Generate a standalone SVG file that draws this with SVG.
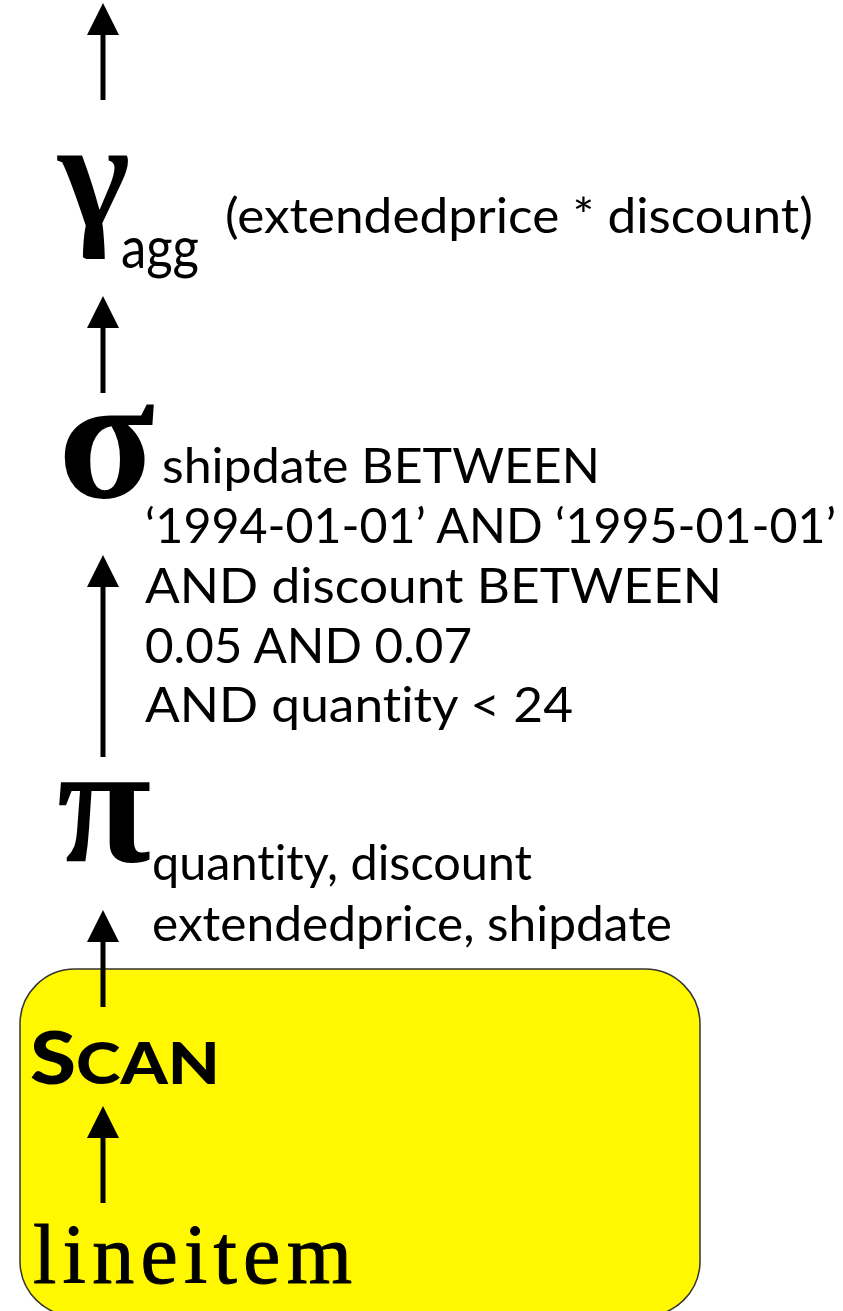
<svg xmlns="http://www.w3.org/2000/svg" width="843" height="1311" viewBox="0 0 843 1311">
  <style>
    .op { font-family: "Liberation Serif", "DejaVu Serif", serif; font-weight: bold; fill: #000; }
    .lbl { font-family: Lato, "Open Sans", "Liberation Sans", sans-serif; font-size: 48px; fill: #000; font-variant-ligatures: none; }
    .sub { font-family: Lato, "Open Sans", "Liberation Sans", sans-serif; fill: #000; font-variant-ligatures: none; }
    .edge { stroke: #000; stroke-width: 5; fill: none; }
  </style>
  <defs>
    <!-- arrowhead pointing along the line; tip sits 20px beyond the line end -->
    <marker id="head" markerUnits="userSpaceOnUse" markerWidth="34" markerHeight="34" viewBox="0 0 34 34" refX="12" refY="17" orient="auto">
      <path d="M32 17 L0 1 L0 33 Z" fill="#000"/>
    </marker>
  </defs>

  <!-- scan pipeline background -->
  <g id="scan-box">
    <rect x="20" y="969" width="680" height="347" rx="55" ry="55" fill="#FFF800" stroke="#333" stroke-width="1.5"/>
  </g>

  <!-- dataflow arrows, bottom to top -->
  <g id="connectors">
    <line class="edge" x1="103" y1="1203" x2="103" y2="1126" marker-end="url(#head)"/>
    <line class="edge" x1="103" y1="1007" x2="103" y2="930" marker-end="url(#head)"/>
    <line class="edge" x1="103" y1="757" x2="103" y2="575" marker-end="url(#head)"/>
    <line class="edge" x1="103" y1="393" x2="103" y2="316" marker-end="url(#head)"/>
    <line class="edge" x1="103" y1="100" x2="103" y2="23" marker-end="url(#head)"/>
  </g>

  <!-- aggregation -->
  <g id="node-gamma">
    <text class="op" x="58" y="226" font-size="154">γ</text>
    <text class="sub" x="121" y="268" font-size="59" textLength="78" lengthAdjust="spacingAndGlyphs">agg</text>
    <text class="lbl" x="225" y="233" textLength="588" lengthAdjust="spacingAndGlyphs">(extendedprice * discount)</text>
  </g>

  <!-- selection -->
  <g id="node-sigma">
    <text class="op" x="58" y="497" font-size="178">σ</text>
    <text class="lbl" x="162" y="483" textLength="438" lengthAdjust="spacingAndGlyphs">shipdate BETWEEN</text>
    <text class="lbl" x="145" y="543" textLength="691" lengthAdjust="spacingAndGlyphs">‘1994-01-01’ AND ‘1995-01-01’</text>
    <text class="lbl" x="145" y="603" textLength="577" lengthAdjust="spacingAndGlyphs">AND discount BETWEEN</text>
    <text class="lbl" x="145" y="663" textLength="327" lengthAdjust="spacingAndGlyphs">0.05 AND 0.07</text>
    <text class="lbl" x="145" y="722" textLength="428" lengthAdjust="spacingAndGlyphs">AND quantity &lt; 24</text>
  </g>

  <!-- projection -->
  <g id="node-pi">
    <text class="op" x="57" y="861" font-size="172">π</text>
    <text class="lbl" x="152" y="880" textLength="380" lengthAdjust="spacingAndGlyphs">quantity, discount</text>
    <text class="lbl" x="152" y="941" textLength="520" lengthAdjust="spacingAndGlyphs">extendedprice, shipdate</text>
  </g>

  <!-- scan operator -->
  <g id="node-scan">
    <text x="30" y="1084" font-family="Lato, 'Open Sans', 'Liberation Sans', sans-serif" font-weight="900" fill="#000" textLength="190" lengthAdjust="spacingAndGlyphs"><tspan font-size="72">S</tspan><tspan font-size="58">CAN</tspan></text>
  </g>

  <!-- base table -->
  <g id="node-lineitem">
    <text x="33" y="1283" font-family="'Liberation Serif', 'DejaVu Serif', serif" font-size="84" fill="#000" stroke="#000" stroke-width="1" textLength="319" lengthAdjust="spacing">lineitem</text>
  </g>
</svg>
